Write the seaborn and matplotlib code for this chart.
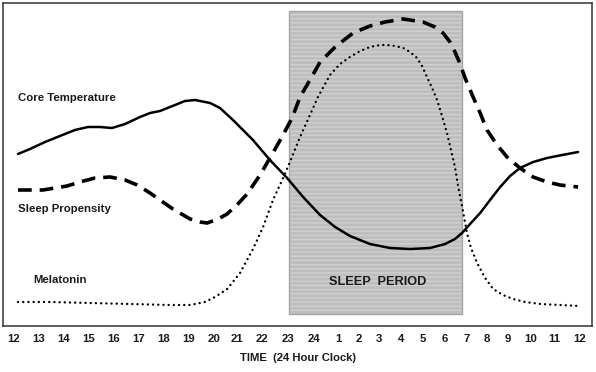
import numpy as np
import pandas as pd
import matplotlib
matplotlib.use("Agg")
import matplotlib.pyplot as plt
import seaborn as sns
from matplotlib.patches import Rectangle

# x = hours after noon (0 = 12:00, 24 = next 12:00), y = relative level
temp_x = [0.17, 0.68, 1.32, 1.95, 2.59, 3.14, 3.65, 4.16, 4.72, 5.35, 5.78, 6.20, 6.84, 7.26,
          7.69, 8.33, 8.75, 9.30, 10.15, 10.87, 11.60, 12.28, 13.00, 13.64, 14.27, 15.12, 15.97,
          16.82, 17.67, 18.31, 18.73, 19.03, 19.37, 19.80, 20.22, 20.65, 21.07, 21.49, 22.05,
          22.64, 23.28, 23.96]
temp_y = [172, 177, 184, 190, 196, 199, 199, 198, 202, 209, 213, 215, 221, 225,
          226, 223, 218, 206, 186, 166, 148, 129, 111, 99, 90, 82, 78,
          77, 78, 82, 87, 93, 102, 113, 126, 139, 150, 158, 164,
          168, 171, 174]

sleep_x = [0.17, 0.68, 1.23, 1.74, 2.25, 2.80, 3.44, 4.08, 4.72, 5.23, 5.78, 6.20, 6.75, 7.48,
           7.90, 8.20, 8.67, 9.05, 9.47, 9.90, 10.45, 10.87, 11.38, 11.81, 12.15, 12.57, 13.00,
           13.64, 14.40, 15.12, 15.76, 16.53, 17.37, 17.88, 18.22, 18.52, 18.73, 18.95, 19.16,
           19.50, 19.80, 20.09, 20.52, 20.94, 21.49, 22.05, 22.64, 23.19, 23.96]
sleep_y = [136, 136, 136, 138, 140, 144, 148, 149, 146, 141, 133, 126, 117, 107,
           104, 103, 107, 112, 121, 132, 151, 168, 189, 208, 229, 246, 264,
           279, 293, 300, 304, 307, 304, 299, 293, 284, 274, 262, 248,
           229, 213, 196, 181, 169, 158, 149, 144, 141, 139]

mel_x = [0.17, 1.53, 3.23, 4.93, 6.63, 7.48, 8.11, 8.54, 9.05, 9.60, 10.15, 10.58, 11.00, 11.43,
         11.72, 12.15, 12.57, 12.91, 13.42, 13.85, 14.27, 14.70, 15.12, 15.55, 15.85, 16.19,
         16.53, 16.82, 17.12, 17.33, 17.54, 17.76, 17.97, 18.18, 18.39, 18.56, 18.73, 18.86,
         19.03, 19.24, 19.41, 19.67, 20.01, 20.35, 20.77, 21.20, 21.71, 22.35, 23.19, 24.04]
mel_y = [24, 24, 23, 22, 21, 21, 24, 29, 37, 53, 77, 99, 126, 148,
         164, 189, 211, 229, 251, 262, 269, 275, 279, 281, 281, 280,
         278, 274, 268, 260, 249, 238, 226, 210, 193, 176, 159, 140,
         120, 93, 78, 63, 48, 37, 31, 27, 24, 22, 21, 20]

tick_pos = [0, 1.06, 2.12, 3.19, 4.25, 5.31, 6.37, 7.43, 8.50, 9.47, 10.54, 11.64, 12.74,
            13.76, 14.66, 15.51, 16.44, 17.37, 18.31, 19.24, 20.09, 20.98, 21.96, 22.94, 24.04]
tick_labels = ["12", "13", "14", "15", "16", "17", "18", "19", "20", "21", "22", "23", "24",
               "1", "2", "3", "4", "5", "6", "7", "8", "9", "10", "11", "12"]

sleep_start, sleep_end = 11.69, 19.03

sns.set_style("white")
plt.rcParams['font.family'] = ['Liberation Sans', 'DejaVu Sans']
plt.rcParams['hatch.linewidth'] = 1.0

fig = plt.figure(figsize=(5.96, 3.72), dpi=100)
ax = fig.add_axes([3 / 596, 46 / 372, 589 / 596, 323 / 372])

# sleep period box
ax.add_patch(Rectangle((sleep_start, 11.7), sleep_end - sleep_start, 303.6,
                       facecolor="#bebebe", edgecolor="#d0d0d0", hatch="----", lw=0, zorder=0))
ax.add_patch(Rectangle((sleep_start, 11.7), sleep_end - sleep_start, 303.6,
                       facecolor="none", edgecolor="#a5a5a5", lw=1.0, zorder=1))

temp = pd.DataFrame({"x": temp_x, "y": temp_y})
sleep = pd.DataFrame({"x": sleep_x, "y": sleep_y})
mel = pd.DataFrame({"x": mel_x, "y": mel_y})

sns.lineplot(data=temp, x="x", y="y", ax=ax, color="black", lw=1.8, sort=False, zorder=3)
sns.lineplot(data=sleep, x="x", y="y", ax=ax, color="black", lw=2.6, sort=False, zorder=3,
             linestyle=(0, (3.8, 2.2)))
sns.lineplot(data=mel, x="x", y="y", ax=ax, color="black", lw=1.7, sort=False, zorder=3,
             linestyle=(0, (0.05, 2.15)), dash_capstyle="round")

txt = dict(fontsize=8.2, fontweight="bold", color="#1a1a1a", va="center")
ax.text(0.17, 228, "Core Temperature", **txt)
ax.text(0.17, 117, "Sleep Propensity", **txt)
ax.text(0.81, 46, "Melatonin", **txt)
ax.text(15.46, 44, "SLEEP  PERIOD", fontsize=9.2, fontweight="bold", color="#1a1a1a",
        ha="center", va="center")

ax.set_xlim(-0.467, 24.55)
ax.set_ylim(0, 323)
ax.set_xticks(tick_pos)
ax.set_xticklabels(tick_labels, fontsize=8.2, fontweight="bold", color="#1a1a1a")
ax.set_yticks([])
ax.tick_params(axis="x", length=0, pad=6)
ax.set_xlabel("TIME  (24 Hour Clock)", fontsize=8.1, fontweight="bold", color="#1a1a1a", labelpad=6)
ax.set_ylabel("")
for s in ax.spines.values():
    s.set_color("#333333")
    s.set_linewidth(1.1)

fig.savefig("out.png", dpi=100)
